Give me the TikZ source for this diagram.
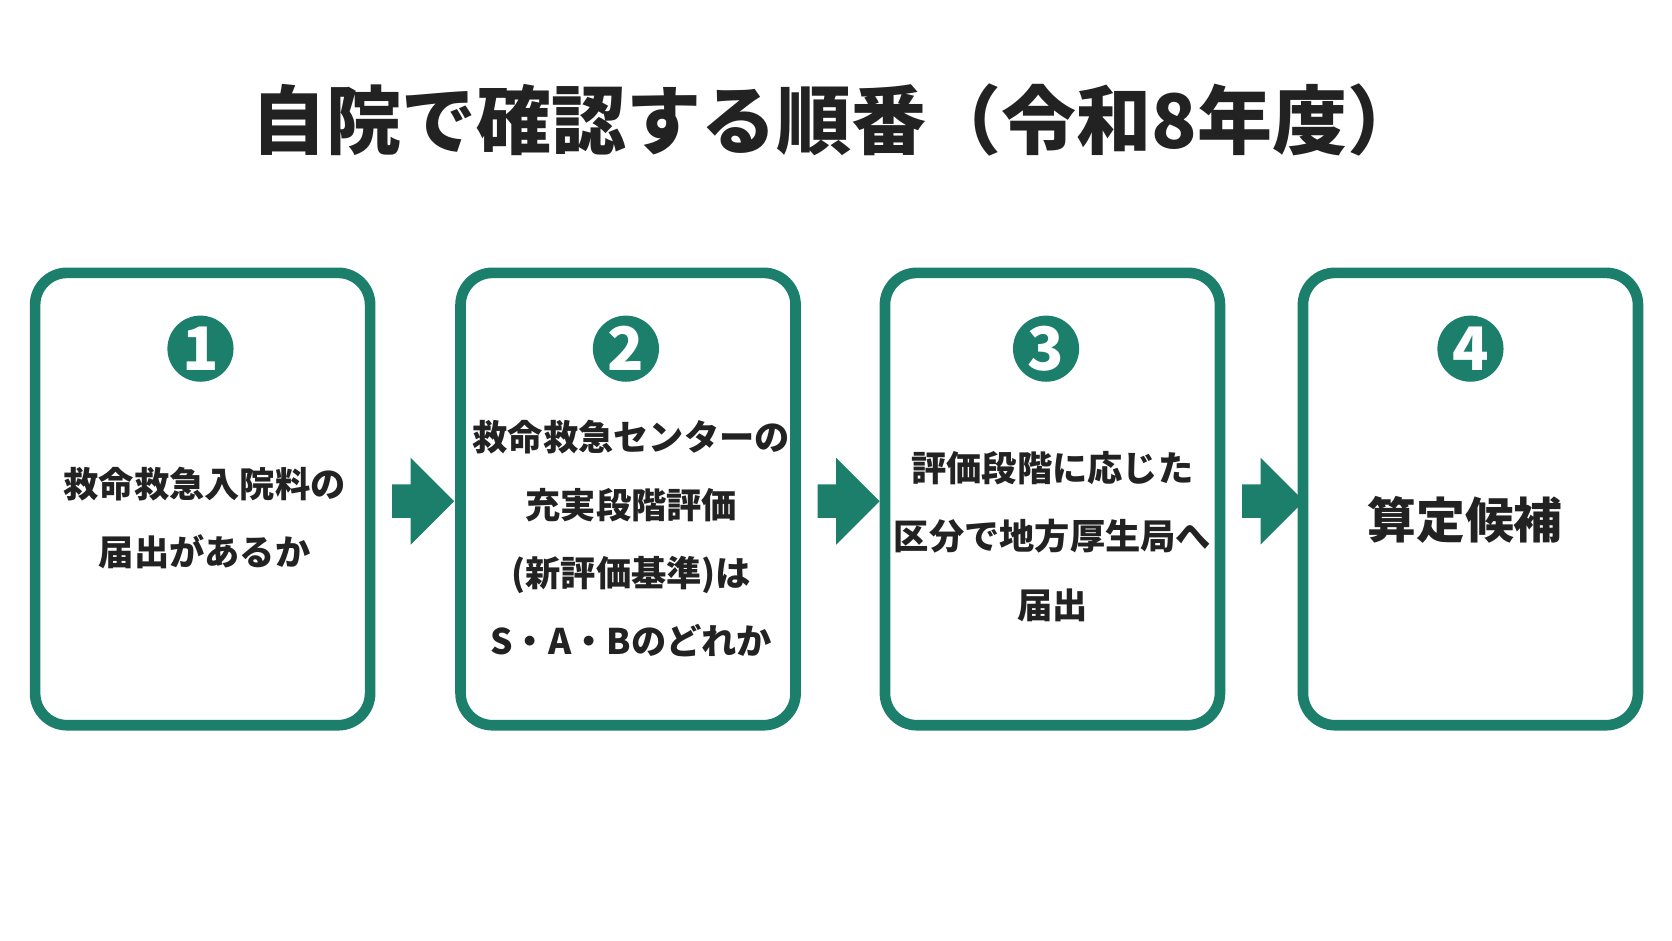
\documentclass[tikz,border=0pt]{standalone}
\usepackage{fontspec}
\setmainfont{Noto Sans CJK JP}
\usetikzlibrary{shapes.arrows}
\definecolor{stepgreen}{HTML}{1B7F6B}
\definecolor{steptextc}{HTML}{222222}
\tikzset{
  stepbox/.style={draw=stepgreen, line width=1mm, rounded corners=0.3cm,
    minimum width=3.14cm, minimum height=4.24cm},
  stepnum/.style={circle, fill=stepgreen, text=white, minimum size=0.62cm,
    inner sep=0pt, font=\fontsize{16}{16}\selectfont\bfseries},
  steptext/.style={align=center, text=steptextc, font=\fontsize{9.4}{18.2}\selectfont\bfseries},
  steparrow/.style={single arrow, fill=stepgreen, minimum width=0.76cm,
    minimum height=0.58cm, inner sep=0pt, text width=0.26cm,
    text height=0.3cm, text depth=0pt}
}
\begin{document}
\begin{tikzpicture}[x=0.01cm, y=-0.01cm]
    \useasboundingbox (0,0) rectangle (1568,882);
    \node[text=steptextc, font=\fontsize{20}{20}\selectfont\bfseries] (title) at (785,113)
      {自院で確認する順番（令和8年度）};
    % steps
    \node[stepbox] (box1) at (190,468) {};
    \node[stepbox] (box2) at (589,468) {};
    \node[stepbox] (box3) at (987,468) {};
    \node[stepbox] (box4) at (1379,468) {};
    \node[stepnum] (num1) at (188,327) {1};
    \node[stepnum] (num2) at (587,327) {2};
    \node[stepnum] (num3) at (981,327) {3};
    \node[stepnum] (num4) at (1379,327) {4};
    \node[steptext] (text1) at (192,486) {救命救急入院料の\\届出があるか};
    \node[steptext] (text2) at (592,505) {救命救急センターの\\充実段階評価\\(新評価基準)は\\S・A・Bのどれか};
    \node[steptext] (text3) at (987,503) {評価段階に応じた\\区分で地方厚生局へ\\届出};
    \node[steptext, font=\fontsize{13}{16}\selectfont\bfseries] (text4) at (1374,488) {算定候補};
    % arrows
    \node[steparrow] (arr1) at (389,470) {};
    \node[steparrow] (arr2) at (788,470) {};
    \node[steparrow] (arr3) at (1186,470) {};
\end{tikzpicture}
\end{document}
